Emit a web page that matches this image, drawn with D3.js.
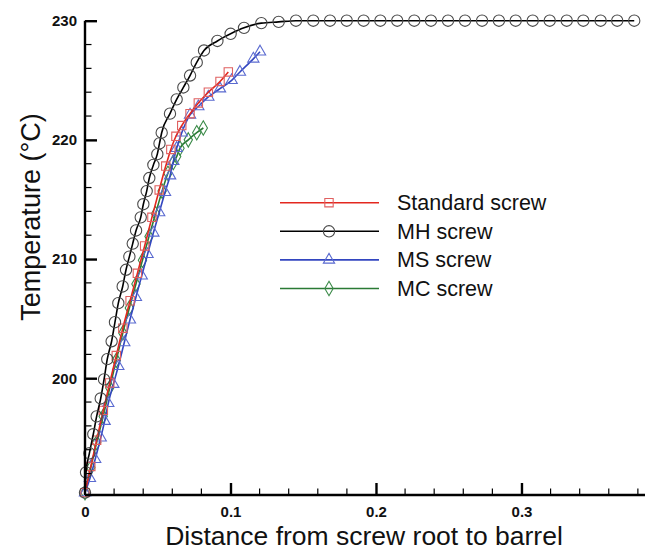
<!DOCTYPE html>
<html><head><meta charset="utf-8">
<script src="https://cdn.jsdelivr.net/npm/d3@7"></script>
<style>body{margin:0;background:#fff;} svg{display:block;}</style>
</head><body>
<svg id="c" width="645" height="552"></svg>
<script>
// ---- data ----
const mhX = [0,0.0007,0.003,0.0057,0.008,0.0108,0.0131,0.0153,0.0183,0.0206,0.0229,0.0259,0.0282,0.0305,0.0328,0.0351,0.0383,0.0401,0.0424,0.0442,0.047,0.0497,0.0512,0.0527,0.0584,0.063,0.0676,0.0722,0.0768,0.0818,0.091,0.1001,0.1093,0.1212,0.1331,0.145,0.1569,0.1684,0.1799,0.1915,0.203,0.2146,0.2263,0.2378,0.2495,0.2612,0.2729,0.2845,0.296,0.3077,0.3194,0.3311,0.3425,0.3544,0.3658,0.3775];
const mhT = [190.4,192.1,193.7,195.3,196.8,198.3,199.9,201.6,203.1,204.7,206.3,207.7,209.1,210.2,211.3,212.4,213.5,214.6,215.7,216.8,217.9,218.8,219.7,220.6,222.2,223.4,224.4,225.4,226.5,227.5,228.3,228.9,229.4,229.8,229.9,230,230,230,230,230,230,230,230,230,230,230,230,230,230,230,230,230,230,230,230,230];
const stdX = [0,0.004,0.008,0.0126,0.017,0.0215,0.026,0.031,0.036,0.041,0.046,0.051,0.0555,0.059,0.0625,0.0665,0.0722,0.0779,0.0848,0.0928,0.0985];
const stdT = [190.4,192.6,194.8,197.3,199.6,201.9,204.2,206.5,208.8,211.1,213.5,215.8,217.8,219.2,220.3,221.2,222.2,223.1,224.0,224.9,225.7];
const msX = [0,0.0034,0.007,0.0108,0.0135,0.016,0.0195,0.0229,0.027,0.0309,0.035,0.039,0.043,0.047,0.051,0.055,0.0585,0.0607,0.063,0.0665,0.0722,0.0779,0.0848,0.0928,0.1008,0.1065,0.1157,0.1203];
const msT = [190.4,191.6,193.2,195.0,196.4,197.9,199.5,201.0,203.0,204.9,206.8,208.6,210.4,212.2,213.9,215.6,217.0,218.2,219.3,220.6,222.1,222.8,223.6,224.3,225.0,225.7,226.8,227.4];
const mcX = [0,0.004,0.008,0.0125,0.017,0.0215,0.026,0.0305,0.035,0.0395,0.044,0.0485,0.053,0.057,0.0607,0.063,0.0653,0.071,0.0768,0.0813];
const mcT = [190.4,192.5,194.6,196.8,199.2,201.5,203.8,205.9,207.9,209.9,211.9,213.8,215.7,217.2,218.1,218.6,219.3,220.0,220.6,221.0];
const seriesNames = ["Standard screw","MH screw","MS screw","MC screw"];
const xMajor = [0,0.1,0.2,0.3];
const yMajor = [200,210,220,230];

// ---- styles ----
const series = [
  {name:seriesNames[0], x:stdX, y:stdT, line:"#e3281f", mk:"#e06060", sym:d3.symbolSquare},
  {name:seriesNames[1], x:mhX, y:mhT, line:"#000000", mk:"#4a4a4a", sym:d3.symbolCircle},
  {name:seriesNames[2], x:msX, y:msT, line:"#3346c0", mk:"#5a6ad0", sym:d3.symbolTriangle},
  {name:seriesNames[3], x:mcX, y:mcT, line:"#2a7a34", mk:"#3a8a48", sym:d3.symbolDiamond}
];
const drawOrder = [3,2,0,1];

const svg = d3.select("#c");
const x = d3.scaleLinear().domain([0, 0.3849]).range([85, 645]);
const y = d3.scaleLinear().domain([190.2, 230]).range([495, 20.7]);

const symSize = {0:70, 1:100, 2:55, 3:60};

const g = svg.append("g");
const line = d3.line().x(d=>x(d[0])).y(d=>y(d[1])).curve(d3.curveMonotoneX);
drawOrder.forEach(i=>{
  const s = series[i];
  const pts = s.x.map((v,k)=>[v, s.y[k]]);
  g.append("path").attr("d", line(pts)).attr("fill","none").attr("stroke", s.line).attr("stroke-width",1.6);
  g.selectAll(null).data(pts).enter().append("path")
    .attr("d", d3.symbol().type(s.sym).size(symSize[i]))
    .attr("transform", d=>`translate(${x(d[0])},${y(d[1])})`)
    .attr("fill","none").attr("stroke", s.mk).attr("stroke-width",1.1);
});

// ---- axes ----
const font = "'Liberation Sans', Arial, Helvetica, sans-serif";
const xMinor = d3.range(0, 0.385, 0.02).filter(v=>!xMajor.some(m=>Math.abs(m-v)<1e-6));
const yMinor = d3.range(192, 230.1, 2).filter(v=>!yMajor.includes(v));

const xAx = svg.append("g").attr("transform","translate(0,495)");
xAx.call(d3.axisBottom(x).tickValues(xMajor).tickSize(-12).tickPadding(11.5).tickFormat(d=>d===0?"0":d3.format(".1f")(d)));
xAx.selectAll(".tick").filter(d=>d===0).select("line").remove();
xAx.append("g").selectAll("line").data(xMinor).enter().append("line")
  .attr("x1",d=>x(d)).attr("x2",d=>x(d)).attr("y1",0).attr("y2",-6.5).attr("stroke","#000").attr("stroke-width",1.2);

const yAx = svg.append("g").attr("transform","translate(85,0)");
yAx.call(d3.axisLeft(y).tickValues(yMajor).tickSize(-12).tickPadding(8));
yAx.append("g").selectAll("line").data(yMinor).enter().append("line")
  .attr("y1",d=>y(d)).attr("y2",d=>y(d)).attr("x1",0).attr("x2",6.5).attr("stroke","#000").attr("stroke-width",1.2);

[xAx, yAx].forEach(a=>{
  a.select(".domain").attr("stroke","#000").attr("stroke-width",2.4);
  a.selectAll(".tick line").attr("stroke","#000").attr("stroke-width",2.4);
  a.selectAll(".tick text").attr("font-family",font).attr("font-weight","bold").attr("font-size",15).attr("fill","#111");
});
xAx.select(".domain").attr("d","M85,0H645");
yAx.select(".domain").attr("d","M0,495V20.7");

// ---- titles ----
svg.append("text").attr("x",364).attr("y",545).attr("text-anchor","middle")
  .attr("font-family",font).attr("font-size",26.5).attr("fill","#111").text("Distance from screw root to barrel");
svg.append("text").attr("transform","translate(40,217) rotate(-90)").attr("text-anchor","middle")
  .attr("font-family",font).attr("font-size",27).attr("fill","#111").text("Temperature (°C)");

// ---- legend ----
const leg = svg.append("g");
[0,1,2,3].forEach((i,r)=>{
  const s = series[i];
  const yy = 202.7 + r*28.6;
  leg.append("line").attr("x1",280).attr("x2",379).attr("y1",yy).attr("y2",yy).attr("stroke",s.line).attr("stroke-width",1.6);
  leg.append("path").attr("d", d3.symbol().type(s.sym).size(symSize[i])).attr("transform",`translate(329,${yy})`)
    .attr("fill","none").attr("stroke",s.mk).attr("stroke-width",1.1);
  leg.append("text").attr("x",397).attr("y",yy+7.5).attr("font-family",font).attr("font-size",21.5).attr("fill","#111").text(s.name);
});
</script>
</body></html>
